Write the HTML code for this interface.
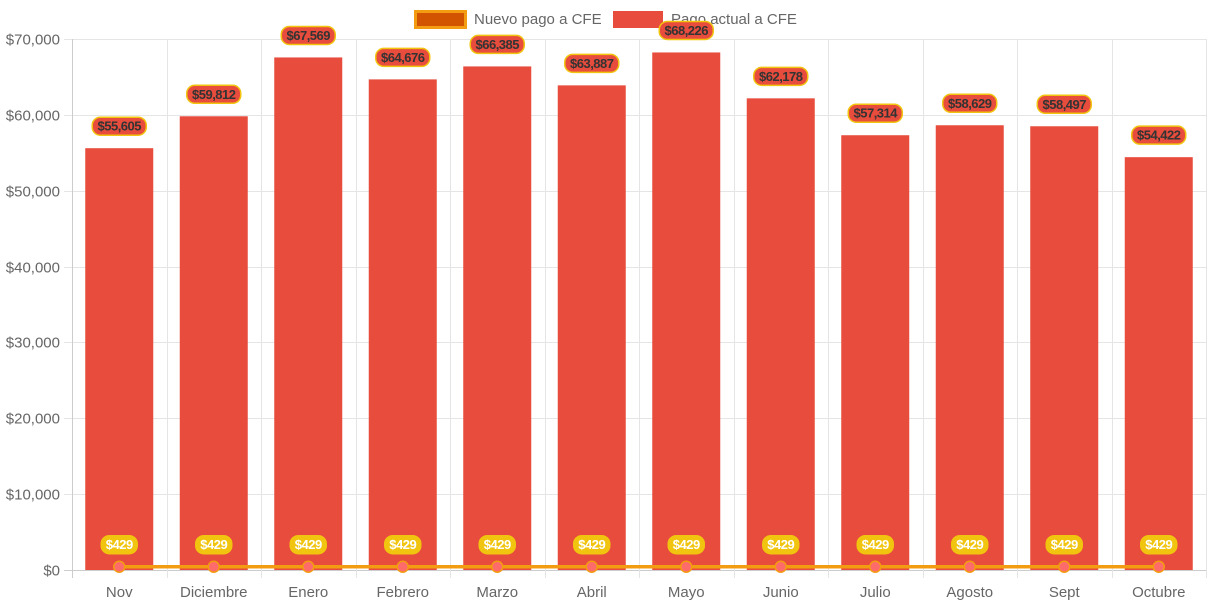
<!DOCTYPE html>
<html><head><meta charset="utf-8"><style>
body{margin:0;background:#fff;}
svg{display:block;font-family:"Liberation Sans",sans-serif;}
</style></head><body>
<svg id="chart" width="1213" height="606" xmlns="http://www.w3.org/2000/svg">
<g id="legend">
 <g>
  <rect x="415.5" y="11.5" width="50" height="16" fill="#d35400" stroke="#f39c12" stroke-width="3"/>
  <text x="474" y="24" font-size="15" fill="#666">Nuevo pago a CFE</text>
 </g>
 <g>
  <rect x="613" y="11" width="50" height="17" fill="#e74c3c"/>
  <text x="671" y="24" font-size="15" fill="#666">Pago actual a CFE</text>
 </g>
</g>
<g id="grid"></g>
<g id="bars"></g>
<g id="line"></g>
<g id="labels"></g>
</svg>
<script>
const categories=["Nov","Diciembre","Enero","Febrero","Marzo","Abril","Mayo","Junio","Julio","Agosto","Sept","Octubre"];
const actualValues=[55605,59812,67569,64676,66385,63887,68226,62178,57314,58629,58497,54422];
const newValues=[429,429,429,429,429,429,429,429,429,429,429,429];
const yTicks=[0,10000,20000,30000,40000,50000,60000,70000];
const NS="http://www.w3.org/2000/svg";
const L=72,R=1206,T=39,B=570,YMAX=70000;
const cw=(R-L)/categories.length;
function xc(i){return L+cw*(i+0.5);}
function y(v){return B-(v/YMAX)*(B-T);}
function mk(tag,attrs,parent,txt){const e=document.createElementNS(NS,tag);for(const k in attrs)e.setAttribute(k,attrs[k]);if(txt!==undefined)e.textContent=txt;parent.appendChild(e);return e;}
const grid=document.getElementById('grid');
yTicks.forEach(t=>{
 const yy=Math.round(y(t))+0.5;
 const ln=mk('line',{x1:L-8,x2:R,y1:yy,y2:yy,stroke:t===0?'#ccc':'#e5e5e5','stroke-width':1},grid);
 
 
 const tx=mk('text',{x:L-12,y:yy+5,'text-anchor':'end','font-size':15,fill:'#666'},grid,'$'+t.toLocaleString('en-US'));
 
 
});
for(let i=0;i<=categories.length;i++){
 const xx=Math.round(L+cw*i)+0.5;
 const ln=mk('line',{x1:xx,x2:xx,y1:T,y2:B+8,stroke:i===0?'#ccc':'#e5e5e5','stroke-width':1},grid);
 
 
}
categories.forEach((c,i)=>{
 const tx=mk('text',{x:xc(i),y:597,'text-anchor':'middle','font-size':15,fill:'#666'},grid,c);
 
 
});
const bars=document.getElementById('bars');
const bw=68;
actualValues.forEach((v,i)=>{
 const r=mk('rect',{x:xc(i)-bw/2,y:y(v),width:bw,height:B-y(v),fill:'#e74c3c'},bars);
 
 
});
const line=document.getElementById('line');
const pts=newValues.map((v,i)=>xc(i)+','+y(v)).join(' ');
const pl=mk('polyline',{points:pts,fill:'none',stroke:'#f39c12','stroke-width':3.5},line);


newValues.forEach((v,i)=>{
 const c=mk('circle',{cx:xc(i),cy:y(v),r:5.5,fill:'#ff6b6b',stroke:'#f39c12','stroke-width':1.5},line);
 
 
});
const labels=document.getElementById('labels');
function label(cx,cy,txt,fill,stroke,color,w){
 const g=mk('g',{},labels);
 mk('rect',{x:cx-w/2,y:cy-9,width:w,height:18,rx:8,fill:fill,stroke:stroke,'stroke-width':1.5},g);
 mk('text',{x:cx,y:cy+4.5,'text-anchor':'middle','font-size':13,'font-weight':'bold',fill:color,'letter-spacing':'-0.5'},g,txt);
 return g;
}
actualValues.forEach((v,i)=>{
 const g=label(xc(i),y(v)-22,'$'+v.toLocaleString('en-US'),'#e74c3c','#f1c40f','#333',54);
 
 
});
newValues.forEach((v,i)=>{
 const g=label(xc(i),y(v)-22,'$'+v.toLocaleString('en-US'),'#f1c40f','#f1c40f','#fff',36);
 
 
});
</script>
</body></html>
